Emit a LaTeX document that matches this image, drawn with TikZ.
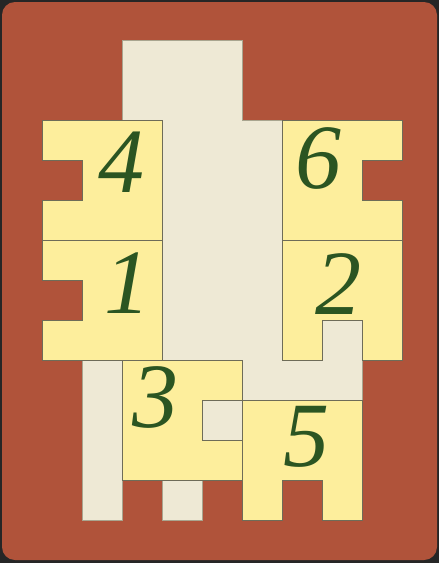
\documentclass[tikz,border=0pt]{standalone}
\usepackage{fontspec}
\newfontfamily\numfont{Liberation Serif}
\begin{document}
\begin{tikzpicture}[x=1pt,y=-1pt,
  boardbg/.style={fill=brick},
  creamarea/.style={fill=creamc,draw=creamline,line width=0.6pt},
  piece/.style={fill=pieceyellow,draw=pieceline,line width=0.8pt,line join=miter},
  num/.style={text=numgreen,inner sep=0pt,font=\numfont\fontsize{92}{92}\selectfont\itshape}]
\definecolor{brick}{HTML}{B0533A}
\definecolor{creamc}{HTML}{EEE9D5}
\definecolor{creamline}{HTML}{A9A58F}
\definecolor{pieceyellow}{HTML}{FDEE9C}
\definecolor{pieceline}{HTML}{6E6C58}
\definecolor{numgreen}{HTML}{2B5522}
\useasboundingbox (0,0) rectangle (439,563);
\fill[black!85] (0,0) rectangle (439,563);
\fill[boardbg,rounded corners=13pt] (2,2) rectangle (437,560);
% board (free cells)
\path[creamarea] (122,40) -- (242,40) -- (242,120) -- (282,120) -- (282,320) -- (362,320)
  -- (362,400) -- (242,400) -- (242,480) -- (202,480) -- (202,520) -- (162,520)
  -- (162,480) -- (122,480) -- (122,520) -- (82,520) -- (82,360) -- (162,360)
  -- (162,120) -- (122,120) -- cycle;
% pieces
\path[piece] (42,120) -- (162,120) -- (162,240) -- (42,240) -- (42,200) -- (82,200) -- (82,160) -- (42,160) -- cycle;
\path[piece] (42,240) -- (162,240) -- (162,360) -- (42,360) -- (42,320) -- (82,320) -- (82,280) -- (42,280) -- cycle;
\path[piece] (282,120) -- (402,120) -- (402,160) -- (362,160) -- (362,200) -- (402,200) -- (402,240) -- (282,240) -- cycle;
\path[piece] (282,240) -- (402,240) -- (402,360) -- (362,360) -- (362,320) -- (322,320) -- (322,360) -- (282,360) -- cycle;
\path[piece] (122,360) -- (242,360) -- (242,400) -- (202,400) -- (202,440) -- (242,440) -- (242,480) -- (122,480) -- cycle;
\path[piece] (242,400) -- (362,400) -- (362,520) -- (322,520) -- (322,480) -- (282,480) -- (282,520) -- (242,520) -- cycle;
% numbers
\node[num] (n4) at (121,162) {4};
\node[num] (n6) at (318,158) {6};
\node[num] (n1) at (127,283) {1};
\node[num] (n2) at (338,284) {2};
\node[num] (n3) at (155,397) {3};
\node[num] (n5) at (306,437) {5};
\end{tikzpicture}
\end{document}
